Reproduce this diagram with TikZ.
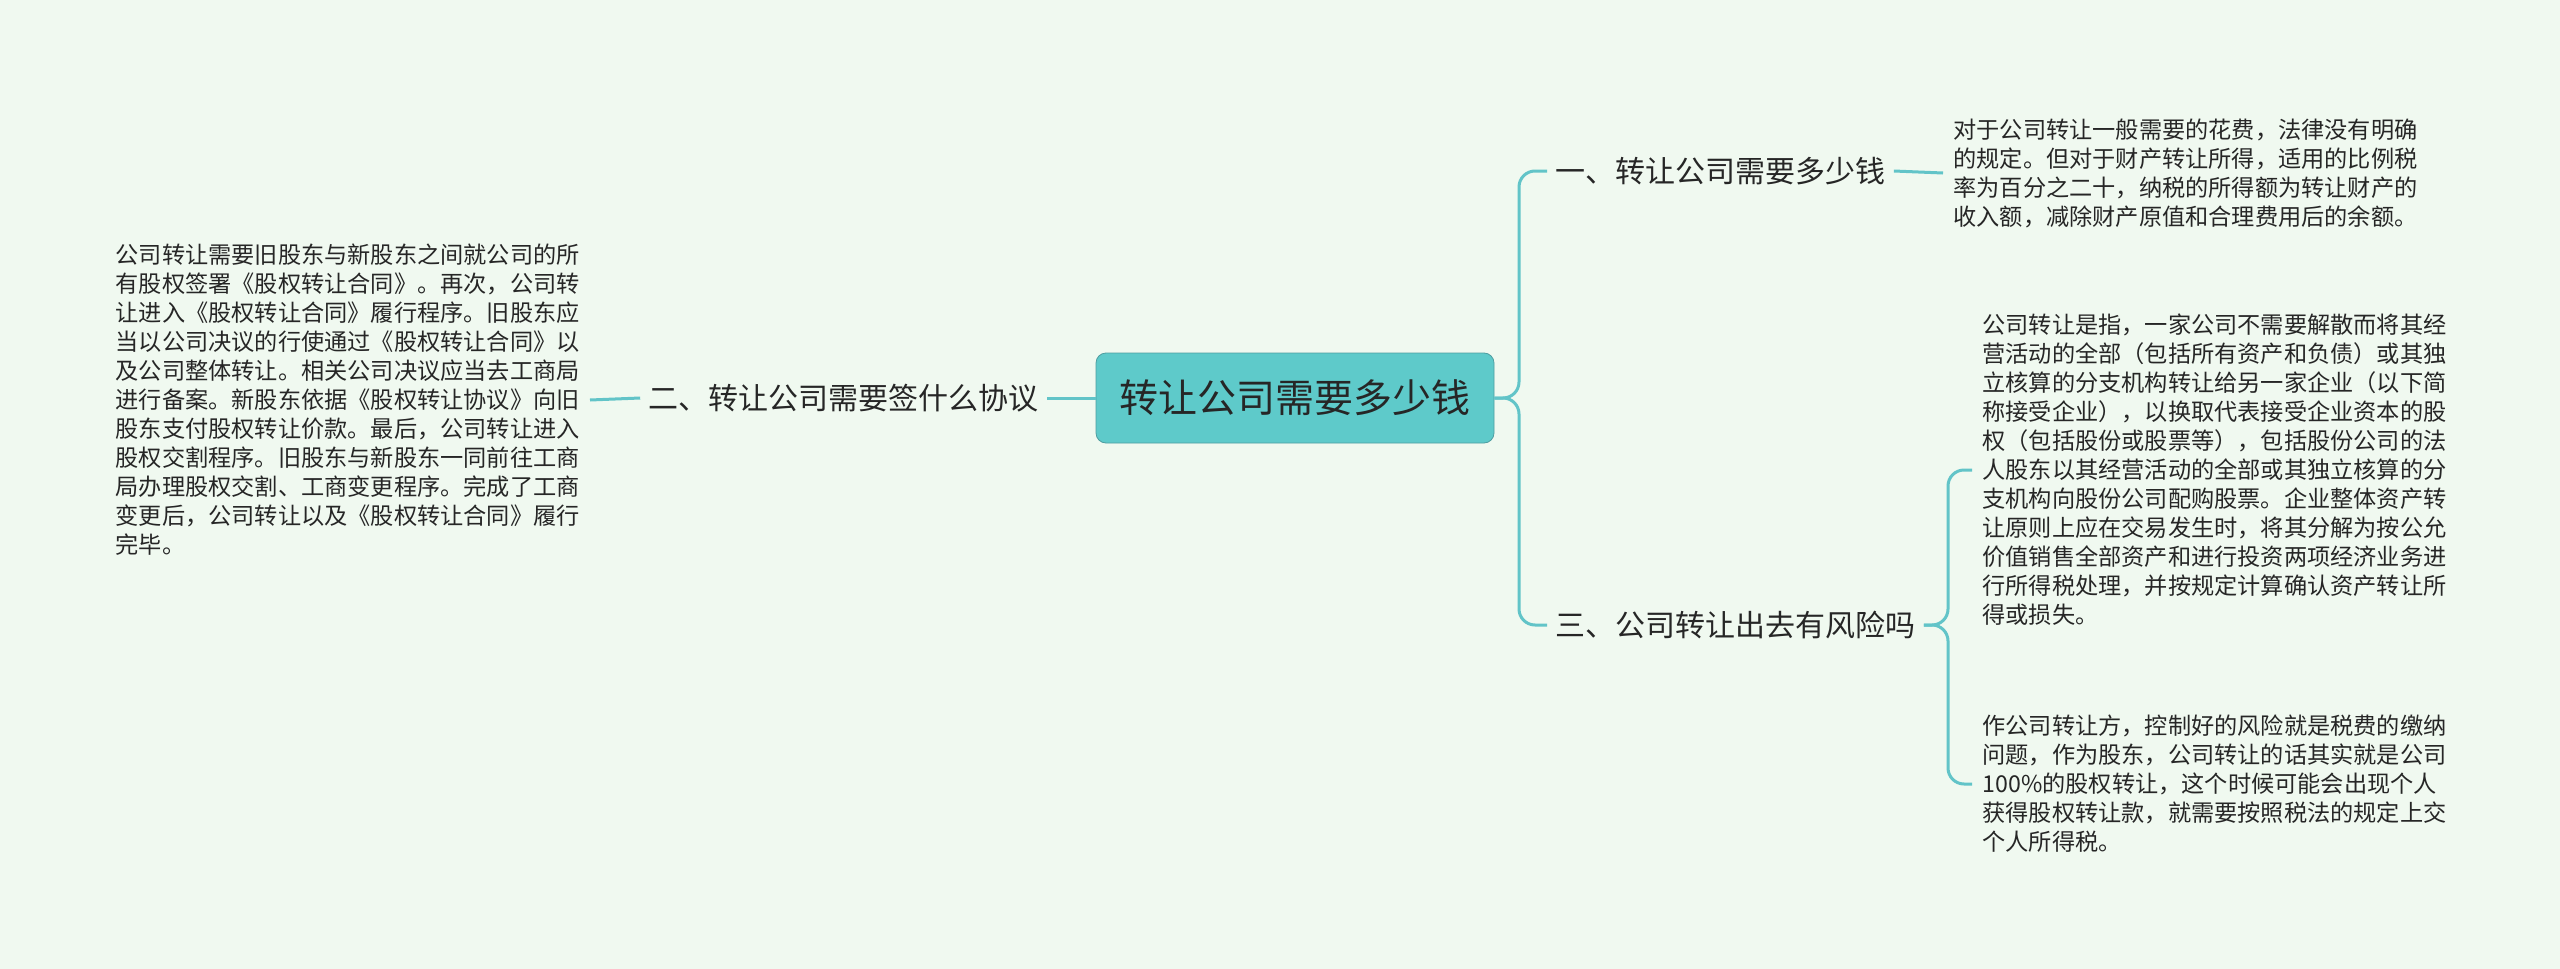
\documentclass[tikz,border=0pt]{standalone}
\usepackage{fontspec}
\setmainfont{Noto Sans CJK SC}
\usetikzlibrary{positioning}
\definecolor{bgmint}{HTML}{F0F9F0}
\definecolor{linkteal}{HTML}{62C4C8}
\definecolor{rootteal}{HTML}{5ECACA}
\tikzset{
  root/.style={draw=linkteal!80!black, fill=rootteal, rounded corners=5pt, minimum width=199pt, minimum height=45pt, font=\fontsize{19.5}{23}\selectfont, text=black!85},
  branch/.style={inner sep=4pt, font=\fontsize{15}{18}\selectfont, text=black!85},
  leaf/.style={inner sep=5pt, align=left, font=\fontsize{11.6}{14.5}\selectfont, text=black!85},
  link/.style={draw=linkteal, line width=1.5pt, rounded corners=8pt}
}
\begin{document}
\begin{tikzpicture}[x=0.5pt, y=-0.5pt]
    \fill[bgmint] (0,0) rectangle (2560,969);
    \useasboundingbox (0,0) rectangle (2560,969);

    % Center
    \node[root] (c) at (1295,398) {转让公司需要多少钱};

    % Branches
    \node[branch, anchor=west] (b1) at (1547,171) {一、转让公司需要多少钱};
    \node[branch, anchor=east] (b2) at (1047,398) {二、转让公司需要签什么协议};
    \node[branch, anchor=west] (b3) at (1547,625) {三、公司转让出去有风险吗};

    % Leaves
    \node[leaf, anchor=west] (l1) at (1943,173) {对于公司转让一般需要的花费，法律没有明确\\的规定。但对于财产转让所得，适用的比例税\\率为百分之二十，纳税的所得额为转让财产的\\收入额，减除财产原值和合理费用后的余额。};
    \node[leaf, anchor=east] (l2) at (590,400) {公司转让需要旧股东与新股东之间就公司的所\\有股权签署《股权转让合同》。再次，公司转\\让进入《股权转让合同》履行程序。旧股东应\\当以公司决议的行使通过《股权转让合同》以\\及公司整体转让。相关公司决议应当去工商局\\进行备案。新股东依据《股权转让协议》向旧\\股东支付股权转让价款。最后，公司转让进入\\股权交割程序。旧股东与新股东一同前往工商\\局办理股权交割、工商变更程序。完成了工商\\变更后，公司转让以及《股权转让合同》履行\\完毕。};
    \node[leaf, anchor=west] (l3a) at (1972,470) {公司转让是指，一家公司不需要解散而将其经\\营活动的全部（包括所有资产和负债）或其独\\立核算的分支机构转让给另一家企业（以下简\\称接受企业），以换取代表接受企业资本的股\\权（包括股份或股票等），包括股份公司的法\\人股东以其经营活动的全部或其独立核算的分\\支机构向股份公司配购股票。企业整体资产转\\让原则上应在交易发生时，将其分解为按公允\\价值销售全部资产和进行投资两项经济业务进\\行所得税处理，并按规定计算确认资产转让所\\得或损失。};
    \node[leaf, anchor=west] (l3b) at (1972,784) {作公司转让方，控制好的风险就是税费的缴纳\\问题，作为股东，公司转让的话其实就是公司\\100\%的股权转让，这个时候可能会出现个人\\获得股权转让款，就需要按照税法的规定上交\\个人所得税。};

    % Links
    \coordinate (j1) at (1519,398);
    \coordinate (j3) at (1948,625);
    \draw[link] (c.east) -- (j1) |- (b1.west);
    \draw[link] (c.east) -- (j1) |- (b3.west);
    \draw[link] (c.west) -- (b2.east);
    \draw[link] (b2.west) -- (l2.east);
    \draw[link] (b1.east) -- (l1.west);
    \draw[link] (b3.east) -- (j3) |- (l3a.west);
    \draw[link] (b3.east) -- (j3) |- (l3b.west);
\end{tikzpicture}
\end{document}
